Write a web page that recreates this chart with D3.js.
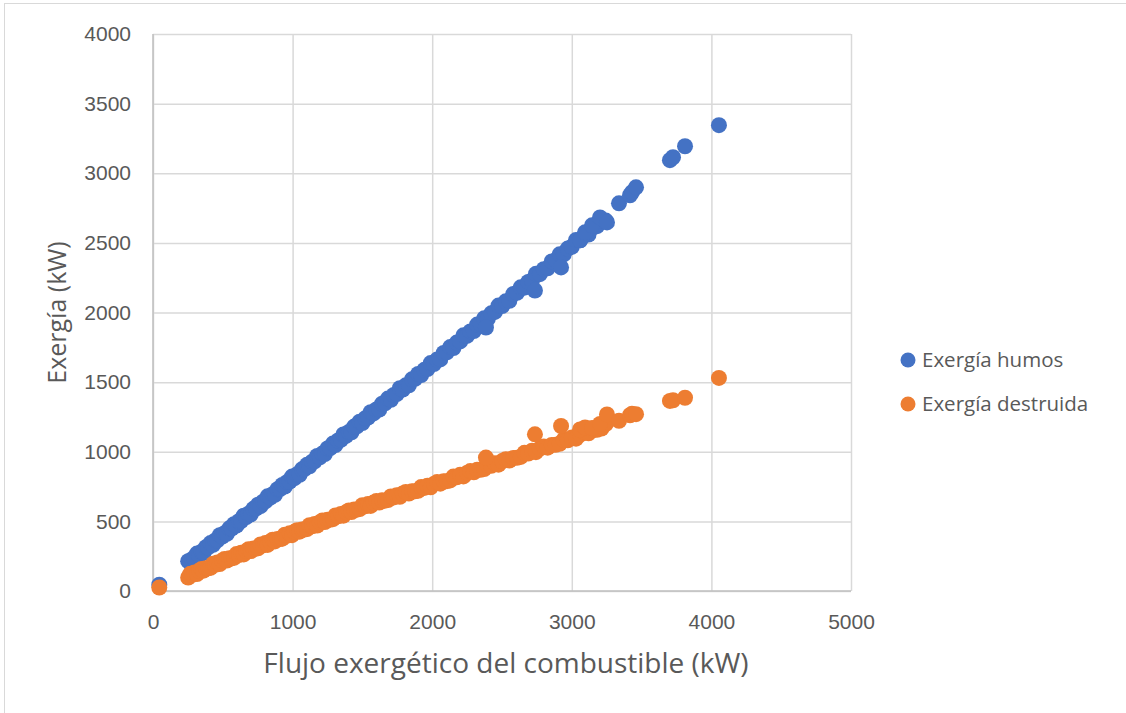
<!DOCTYPE html>
<html>
<head>
<meta charset="utf-8">
<script src="https://cdn.jsdelivr.net/npm/d3@7"></script>
<style>
  html, body { margin: 0; padding: 0; background: #ffffff; }
  svg { display: block; font-family: "Open Sans", "Noto Sans", sans-serif; }
</style>
</head>
<body>
<svg id="chart" width="1126" height="713"></svg>
<script>
// Flujo exergético del combustible (kW) — shared x for both series
const fuel = [
  45, 252, 268, 281, 297, 315, 330, 348, 362, 379, 395, 412, 430, 446, 461, 478, 496,
  512, 529, 547, 563, 580, 598, 615, 631, 650, 668, 684, 701, 719, 737, 752, 770, 788,
  805, 821, 840, 857, 873, 892, 910, 926, 944, 962, 979, 996, 1014, 1032, 1050, 1067,
  1085, 1103, 1121, 1140, 1158, 1176, 1195, 1213, 1231, 1250, 1270, 1289, 1307, 1326,
  1346, 1364, 1383, 1403, 1422, 1441, 1461, 1480, 1500, 1520, 1540, 1559, 1580, 1600,
  1621, 1641, 1662, 1683, 1704, 1725, 1746, 1768, 1789, 1811, 1833, 1855, 1877, 1899,
  1921, 1944, 1966, 1989, 2012, 2035, 2058, 2082, 2105, 2129, 2152, 2176, 2200, 2224,
  2249, 2273, 2298, 2322, 2347, 2372, 2398, 2423, 2449, 2475, 2501, 2527, 2553, 2580,
  2607, 2634, 2661, 2688, 2715, 2743, 2771, 2799, 2827, 2856, 2884, 2913, 2942, 2971,
  3000, 3030, 3060, 3090, 3120, 3150, 3181, 3212, 3243,
  2385, 2736, 2923, 3059, 3095, 3145, 3202, 3252, 3338, 3417, 3431, 3460, 3703, 3725,
  3811, 4054
];

// Exergía humos (kW)
const exergiaHumos = [
  45,
  214, 201, 229, 230, 269, 255, 282, 275, 314, 313,
  344, 332, 363, 364, 401, 390, 415, 411, 450, 449,
  480, 469, 501, 502, 541, 530, 555, 551, 590, 591,
  620, 609, 641, 643, 680, 670, 695, 691, 731, 732,
  762, 750, 783, 785, 822, 811, 838, 835, 874, 875,
  906, 895, 929, 932, 970, 960, 987, 983, 1024, 1026,
  1059, 1048, 1081, 1086, 1124, 1114, 1142, 1140, 1181, 1183,
  1216, 1206, 1240, 1245, 1284, 1275, 1304, 1303, 1345, 1348,
  1382, 1373, 1408, 1414, 1456, 1447, 1477, 1477, 1520, 1524,
  1559, 1551, 1588, 1594, 1637, 1630, 1662, 1663, 1709, 1714,
  1752, 1745, 1784, 1792, 1836, 1832, 1864, 1867, 1913, 1920,
  1958, 1954, 1994, 2004, 2050, 2046, 2080, 2084, 2132, 2141,
  2181, 2178, 2219, 2230, 2278, 2275, 2311, 2317, 2367, 2376,
  2418, 2417, 2459, 2472, 2520, 2518, 2554, 2560, 2609, 2620,
  2662, 2660,
  1892, 2158, 2324, 2518, 2576, 2626, 2683, 2647, 2784, 2842, 2863, 2899, 3094, 3115,
  3194, 3345
];

// Exergía destruida (kW)
const exergiaDestruida = [
  25,
  97, 124, 116, 133, 122, 145, 158, 146, 164, 163,
  167, 195, 188, 205, 193, 218, 230, 219, 236, 234,
  238, 265, 258, 274, 263, 287, 299, 287, 305, 304,
  307, 334, 327, 344, 331, 356, 368, 356, 374, 373,
  376, 404, 397, 414, 401, 425, 437, 426, 442, 441,
  445, 472, 465, 482, 470, 494, 506, 495, 512, 512,
  516, 543, 536, 553, 541, 566, 578, 567, 585, 584,
  588, 616, 608, 624, 611, 635, 646, 635, 651, 649,
  653, 679, 672, 688, 676, 700, 711, 700, 717, 716,
  720, 746, 740, 756, 745, 769, 782, 771, 789, 789,
  794, 822, 816, 834, 823, 848, 861, 852, 870, 870,
  876, 904, 899, 917, 907, 933, 947, 937, 956, 957,
  963, 992, 987, 1007, 997, 1023, 1038, 1029, 1049, 1050,
  1057, 1087, 1082, 1102, 1094, 1123, 1139, 1133, 1154, 1158,
  1167, 1198,
  958, 1125, 1185, 1160, 1175, 1170, 1200, 1268, 1222, 1262, 1272, 1270, 1365, 1370,
  1388, 1530
];

const xTicks = [0, 1000, 2000, 3000, 4000, 5000];
const yTicks = [0, 500, 1000, 1500, 2000, 2500, 3000, 3500, 4000];

const seriesNames = ["Exergía humos", "Exergía destruida"];
const seriesColors = ["#4472C4", "#ED7D31"];

const svg = d3.select("#chart");
const textColor = "#595959";
const gridColor = "#d9d9d9";

// chart area border
svg.append("rect")
  .attr("x", 4.5).attr("y", 3.5)
  .attr("width", 1200).attr("height", 800)
  .attr("fill", "none").attr("stroke", gridColor).attr("stroke-width", 1);

const x = d3.scaleLinear().domain([0, 5000]).range([153, 851]);
const y = d3.scaleLinear().domain([0, 4000]).range([591, 34]);

// vertical gridlines + x tick labels
const xAxis = d3.axisBottom(x).tickValues(xTicks).tickSize(-(y(0) - y(4000))).tickFormat(d3.format("d")).tickPadding(23);
const gx = svg.append("g").attr("transform", `translate(0,${y(0)})`).call(xAxis);
gx.select(".domain").remove();
gx.selectAll(".tick line").attr("stroke", gridColor).attr("stroke-width", 1.5);
gx.selectAll(".tick text").attr("fill", textColor).style("font-size", "21px");

// horizontal gridlines + y tick labels
const yAxis = d3.axisLeft(y).tickValues(yTicks).tickSize(-(x(5000) - x(0))).tickFormat(d3.format("d")).tickPadding(22);
const gy = svg.append("g").attr("transform", `translate(${x(0)},0)`).call(yAxis);
gy.select(".domain").remove();
gy.selectAll(".tick line").attr("stroke", gridColor).attr("stroke-width", 1.5);
gy.selectAll(".tick text").attr("fill", textColor).style("font-size", "21px");

// axis lines
svg.append("line")
  .attr("x1", x(0)).attr("x2", x(5000)).attr("y1", y(0)).attr("y2", y(0))
  .attr("stroke", "#bfbfbf").attr("stroke-width", 1.5);
svg.append("line")
  .attr("x1", x(0)).attr("x2", x(0)).attr("y1", y(0)).attr("y2", y(4000))
  .attr("stroke", "#bfbfbf").attr("stroke-width", 1.5);

// scatter points
const seriesValues = [exergiaHumos, exergiaDestruida];
seriesValues.forEach((vals, si) => {
  svg.append("g")
    .selectAll("circle")
    .data(fuel.map((f, i) => [f, vals[i]]))
    .join("circle")
    .attr("cx", d => x(d[0]))
    .attr("cy", d => y(d[1]))
    .attr("r", 8)
    .attr("fill", seriesColors[si]);
});

// axis titles
svg.append("text")
  .attr("x", (x(0) + x(5000)) / 2 + 4).attr("y", 673)
  .attr("text-anchor", "middle").attr("fill", textColor)
  .style("font-size", "28px")
  .text("Flujo exergético del combustible (kW)");

svg.append("text")
  .attr("transform", `translate(66,${(y(0) + y(4000)) / 2}) rotate(-90)`)
  .attr("text-anchor", "middle").attr("fill", textColor)
  .style("font-size", "25px")
  .text("Exergía (kW)");

// legend
const legend = svg.append("g");
seriesNames.forEach((name, i) => {
  const cy = 360 + i * 44;
  legend.append("circle").attr("cx", 908).attr("cy", cy).attr("r", 7.5).attr("fill", seriesColors[i]);
  legend.append("text").attr("x", 922).attr("y", cy + 7)
    .attr("fill", textColor).style("font-size", "20.5px").text(name);
});
</script>
</body>
</html>
